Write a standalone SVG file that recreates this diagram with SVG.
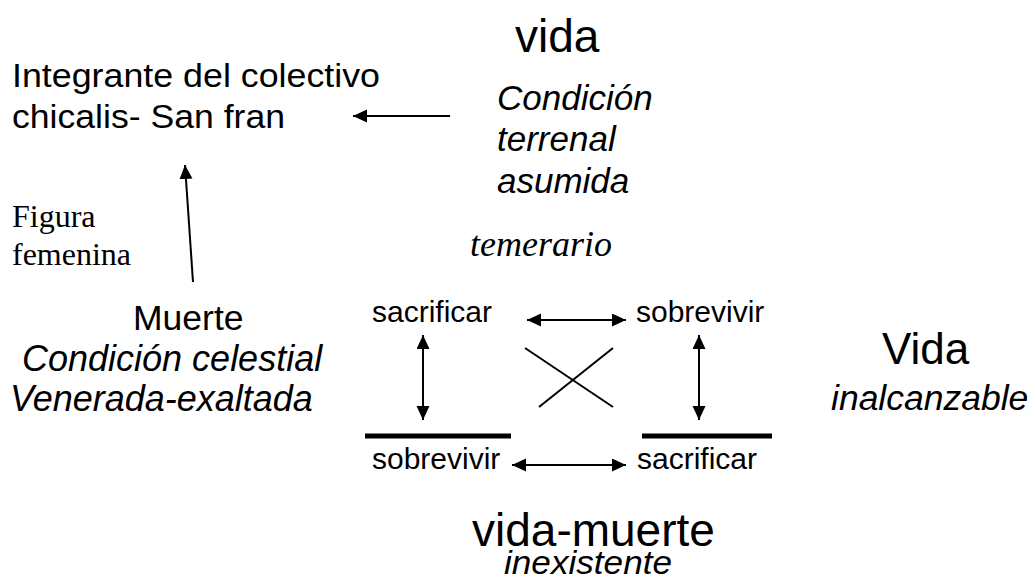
<svg xmlns="http://www.w3.org/2000/svg" width="1032" height="581" viewBox="0 0 1032 581">
<defs>
<style>
.s{font-family:"Liberation Sans",Arial,sans-serif;fill:#000}
.i{font-family:"Liberation Sans",Arial,sans-serif;font-style:italic;fill:#000}
.t{font-family:"Liberation Serif","Times New Roman",serif;fill:#000}
.ti{font-family:"Liberation Serif","Times New Roman",serif;font-style:italic;fill:#000}
.ln{stroke:#000;stroke-width:2;fill:none}
.bar{stroke:#000;stroke-width:5}
</style>
<marker id="ah" markerUnits="userSpaceOnUse" markerWidth="15" markerHeight="14" refX="14" refY="6.5" orient="auto-start-reverse">
<path d="M0,0 L14,6.5 L0,13 z" fill="#000"/>
</marker>
</defs>
<rect width="1032" height="581" fill="#fff"/>
<g id="vida-top"><text class="s" x="515" y="52" font-size="46">vida</text></g>
<g id="integrante">
<text class="s" x="12" y="87" font-size="34" textLength="368" lengthAdjust="spacingAndGlyphs">Integrante del colectivo</text>
<text class="s" x="12" y="128" font-size="34" textLength="273" lengthAdjust="spacingAndGlyphs">chicalis- San fran</text>
</g>
<g id="condicion-terrenal">
<text class="i" x="497" y="110" font-size="35">Condición</text>
<text class="i" x="497" y="151" font-size="35">terrenal</text>
<text class="i" x="497" y="193" font-size="35">asumida</text>
</g>
<g id="figura"><text class="t" x="12" y="227" font-size="32">Figura</text><text class="t" x="12" y="265" font-size="32">femenina</text></g>
<g id="temerario"><text class="ti" x="470" y="256" font-size="36">temerario</text></g>
<g id="muerte">
<text class="s" x="133" y="330" font-size="35.5">Muerte</text>
<text class="i" x="22" y="371" font-size="36">Condición celestial</text>
<text class="i" x="10" y="411" font-size="36">Venerada-exaltada</text>
</g>
<g id="vida-right">
<text class="s" x="882" y="364" font-size="44">Vida</text>
<text class="i" x="831" y="410" font-size="35.5">inalcanzable</text>
</g>
<g id="sq-tl"><text class="s" x="372" y="322" font-size="30">sacrificar</text></g>
<g id="sq-tr"><text class="s" x="636" y="322" font-size="30">sobrevivir</text></g>
<g id="sq-bl"><line class="bar" x1="365" y1="436" x2="511" y2="436"/><text class="s" x="372" y="469" font-size="30">sobrevivir</text></g>
<g id="sq-br"><line class="bar" x1="642" y1="436" x2="772" y2="436"/><text class="s" x="637" y="469" font-size="30">sacrificar</text></g>
<g id="vida-muerte">
<text class="s" x="472" y="546" font-size="46">vida-muerte</text>
<text class="i" x="504" y="574" font-size="34" textLength="168" lengthAdjust="spacingAndGlyphs">inexistente</text>
</g>
<g id="connectors">
<line class="ln" x1="450" y1="116" x2="353" y2="116" marker-end="url(#ah)"/>
<line class="ln" x1="193" y1="282" x2="185" y2="165" marker-end="url(#ah)"/>
<line class="ln" x1="527" y1="320" x2="626" y2="320" marker-start="url(#ah)" marker-end="url(#ah)"/>
<line class="ln" x1="512" y1="465" x2="626" y2="465" marker-start="url(#ah)" marker-end="url(#ah)"/>
<line class="ln" x1="423" y1="335" x2="423" y2="420" marker-start="url(#ah)" marker-end="url(#ah)"/>
<line class="ln" x1="699" y1="335" x2="699" y2="420" marker-start="url(#ah)" marker-end="url(#ah)"/>
<line class="ln" x1="525" y1="348" x2="613" y2="407"/>
<line class="ln" x1="539" y1="407" x2="613" y2="348"/>
</g>
</svg>
